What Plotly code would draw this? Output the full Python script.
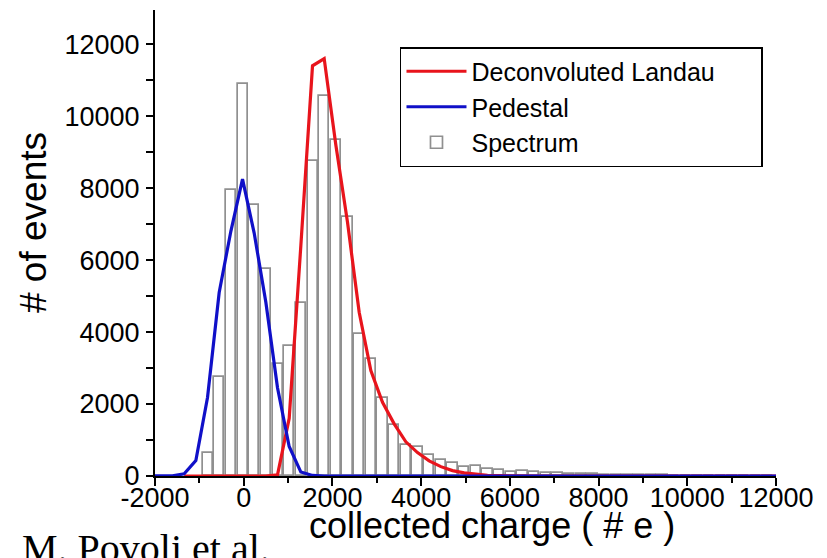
import numpy as np
import plotly.graph_objects as go

# ---------------- data ----------------
BIN_WIDTH = 263            # electrons per histogram bin
SPECTRUM_FIRST_CENTER = -816
spectrum_counts = [650, 2750, 7950, 10880, 7520, 5750, 3120, 3620, 4800, 8750,
                   10560, 9330, 7200, 3960, 3260, 2175, 1420, 860, 806, 575,
                   444, 352, 250, 278, 204, 167, 125, 135, 115, 90,
                   75, 60, 50, 45, 35, 28, 22, 20, 18, 15,
                   14, 12, 10, 9, 8, 7, 6, 5, 5]

PEDESTAL_FIRST_CENTER = -2131
pedestal_counts = [0, 0, 5, 60, 430, 2180, 5100, 6800, 8250, 6750,
                   4830, 2450, 820, 110, 15, 0, 0, 0, 0, 0,
                   0, 0, 0, 0, 0, 0, 0, 0, 0, 0,
                   0, 0, 0, 0, 0, 0, 0, 0, 0, 0,
                   0, 0, 0, 0, 0, 0, 0, 0, 0, 0,
                   0, 0, 0, 0, 0]

LANDAU_FIRST_CENTER = -1342
landau_counts = [0, 0, 0, 0, 0, 0, 0, 0, 30, 1600,
                 6400, 11400, 11600, 9200, 7050, 4550, 2930, 2050, 1450, 950,
                 650, 420, 260, 150, 85, 45, 20, 10, 0, 0,
                 0, 0, 0, 0, 0, 0, 0, 0, 0, 0,
                 0, 0, 0, 0, 0, 0, 0, 0, 0, 0,
                 0, 0]

x_range = [-2000, 12000]
y_range = [0, 12950]
x_tick_vals = [-2000, 0, 2000, 4000, 6000, 8000, 10000, 12000]
x_tick_text = ["-2000", "0", "2000", "4000", "6000", "8000", "10000", "12000"]
y_tick_vals = [0, 2000, 4000, 6000, 8000, 10000, 12000]
y_tick_text = ["0", "2000", "4000", "6000", "8000", "10000", "12000"]
MINOR_STEP = 1000

x_title = "collected charge ( # e )"
y_title = "# of events"
citation = "M. Povoli et al."
series_names = ["Deconvoluted Landau", "Pedestal", "Spectrum"]

# ---------------- derived bin centres ----------------
spectrum_x = SPECTRUM_FIRST_CENTER + BIN_WIDTH * np.arange(len(spectrum_counts))
pedestal_x = PEDESTAL_FIRST_CENTER + BIN_WIDTH * np.arange(len(pedestal_counts))
landau_x = LANDAU_FIRST_CENTER + BIN_WIDTH * np.arange(len(landau_counts))

FONT = "Liberation Sans, Arial, sans-serif"
NBSP_PAD = "\u00a0" * 6   # widens the legend box like the reference

fig = go.Figure()
fig.add_trace(go.Bar(
    x=spectrum_x, y=spectrum_counts, width=BIN_WIDTH * 0.86,
    marker=dict(color="white", line=dict(color="#909090", width=1.7)),
    name=series_names[2], legendrank=3))
fig.add_trace(go.Scatter(
    x=landau_x, y=landau_counts, mode="lines",
    line=dict(color="#e8141c", width=3.2),
    name=series_names[0] + NBSP_PAD, legendrank=1))
fig.add_trace(go.Scatter(
    x=pedestal_x, y=pedestal_counts, mode="lines",
    line=dict(color="#1010c8", width=3.2),
    name=series_names[1], legendrank=2))

axis_common = dict(showgrid=False, zeroline=False, showline=True,
                   linecolor="black", linewidth=2, tickcolor="black",
                   tickwidth=2, automargin=False)

fig.update_layout(
    template="none",
    width=827, height=558,
    margin=dict(l=155, r=51, t=10, b=82),
    paper_bgcolor="white", plot_bgcolor="white",
    font=dict(family=FONT, color="black", size=27),
    bargap=0,
    showlegend=True,
    legend=dict(x=0.3945, y=0.9206, xanchor="left", yanchor="top",
                bgcolor="white", bordercolor="black", borderwidth=1.5,
                font=dict(family=FONT, size=25, color="black"),
                itemwidth=60, tracegroupgap=0, traceorder="normal"),
    xaxis=dict(range=x_range, tickmode="array", tickvals=x_tick_vals,
               ticktext=x_tick_text, ticks="outside", ticklen=8,
               ticklabelstandoff=-11,
               minor=dict(tickmode="linear", tick0=0, dtick=MINOR_STEP,
                          ticks="outside", ticklen=5, tickcolor="black",
                          tickwidth=2),
               tickfont=dict(size=27, family=FONT),
               **axis_common),
    yaxis=dict(range=y_range, tickmode="array", tickvals=y_tick_vals,
               ticktext=y_tick_text, ticks="outside", ticklen=7,
               ticklabelstandoff=1,
               minor=dict(tickmode="linear", tick0=0, dtick=MINOR_STEP,
                          ticks="outside", ticklen=7, tickcolor="black",
                          tickwidth=2),
               tickfont=dict(size=27, family=FONT),
               **axis_common),
    xaxis2=dict(range=x_range, tickmode="array", tickvals=x_tick_vals,
                overlaying="x", side="top", anchor="y", ticks="inside",
                ticklen=8,
                minor=dict(tickmode="linear", tick0=0, dtick=MINOR_STEP,
                           ticks="inside", ticklen=5, tickcolor="black",
                           tickwidth=2),
                showticklabels=False, **axis_common),
    yaxis2=dict(range=y_range, tickmode="array", tickvals=y_tick_vals,
                overlaying="y", side="right", anchor="x", ticks="inside",
                ticklen=7,
                minor=dict(tickmode="linear", tick0=0, dtick=MINOR_STEP,
                           ticks="inside", ticklen=7, tickcolor="black",
                           tickwidth=2),
                showticklabels=False, **axis_common),
)

fig.add_annotation(text=x_title, xref="paper", yref="paper",
                   x=0.5427, y=-0.107, xanchor="center", yanchor="middle",
                   showarrow=False,
                   font=dict(size=36, family=FONT, color="black"))
fig.add_annotation(text=y_title, xref="paper", yref="paper",
                   x=-0.1965, y=0.545, xanchor="center", yanchor="middle",
                   textangle=-90, showarrow=False,
                   font=dict(size=37, family=FONT, color="black"))
fig.add_annotation(text=citation, xref="paper", yref="paper",
                   x=-0.2174, y=-0.103, xanchor="left", yanchor="top",
                   showarrow=False,
                   font=dict(size=40, family="Liberation Serif, Times New Roman, serif",
                             color="black"))

fig.write_html("out.html")
